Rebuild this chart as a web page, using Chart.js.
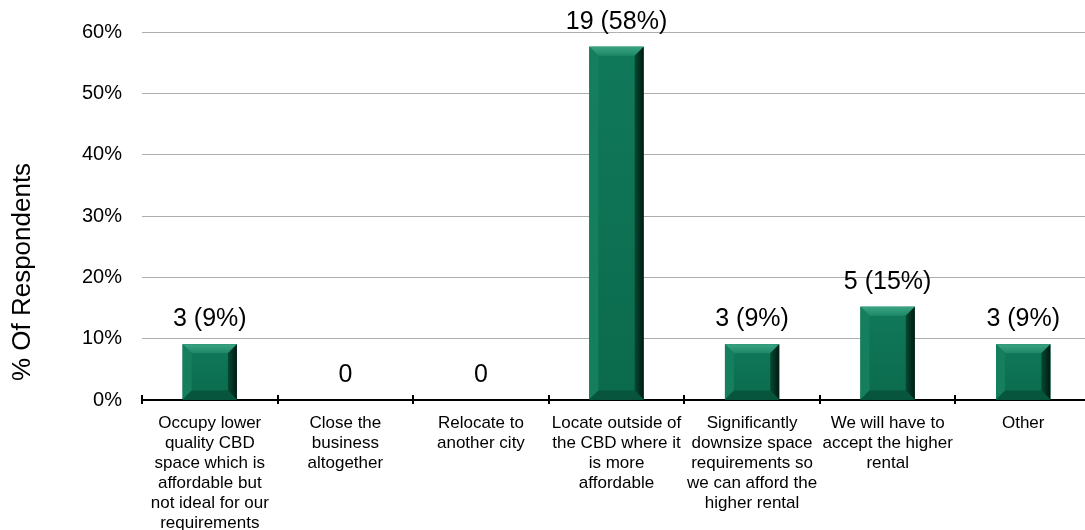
<!DOCTYPE html>
<html>
<head>
<meta charset="utf-8">
<script src="https://cdn.jsdelivr.net/npm/chart.js@4"></script>
<style>
  html, body { margin: 0; padding: 0; background: #fff; overflow: hidden; }
  #wrap { position: absolute; left: 0; top: 0; width: 1091px; height: 530px; }
</style>
</head>
<body>
<div id="wrap"><canvas id="barChart" width="1091" height="530"></canvas></div>
<script>
// categories (wrapped the way they appear under the axis)
const categories = [
  ['Occupy lower', 'quality CBD', 'space which is', 'affordable but', 'not ideal for our', 'requirements'],
  ['Close the', 'business', 'altogether'],
  ['Relocate to', 'another city'],
  ['Locate outside of', 'the CBD where it', 'is more', 'affordable'],
  ['Significantly', 'downsize space', 'requirements so', 'we can afford the', 'higher rental'],
  ['We will have to', 'accept the higher', 'rental'],
  ['Other']
];
// % of respondents
const percents = [9.1, 0, 0, 57.6, 9.1, 15.2, 9.1];
// text shown above each bar
const valueLabels = ['3 (9%)', '0', '0', '19 (58%)', '3 (9%)', '5 (15%)', '3 (9%)'];
const yTicks = [0, 10, 20, 30, 40, 50, 60];
const yTitle = '% Of Respondents';

const FONT = "'Liberation Sans', Arial, sans-serif";

// bevelled look of the bars
const bevelPlugin = {
  id: 'bevel',
  afterDatasetsDraw(chart) {
    const ctx = chart.ctx;
    chart.getDatasetMeta(0).data.forEach(function(bar) {
      const l = bar.x - bar.width / 2, r = bar.x + bar.width / 2;
      const t = bar.y, b = bar.base;
      const h = b - t;
      if (h < 1) return;
      const bv = Math.min(9, h / 2);
      ctx.save();
      // face
      let g = ctx.createLinearGradient(0, t, 0, b);
      g.addColorStop(0, '#10795a');
      g.addColorStop(1, '#0b6a4c');
      ctx.fillStyle = g;
      ctx.fillRect(l, t, r - l, h);
      // top
      g = ctx.createLinearGradient(0, t, 0, t + bv);
      g.addColorStop(0, '#3aa383');
      g.addColorStop(1, '#1d8866');
      ctx.fillStyle = g;
      ctx.beginPath();
      ctx.moveTo(l, t); ctx.lineTo(r, t); ctx.lineTo(r - bv, t + bv); ctx.lineTo(l + bv, t + bv);
      ctx.closePath(); ctx.fill();
      // left
      ctx.fillStyle = '#147e5d';
      ctx.beginPath();
      ctx.moveTo(l, t); ctx.lineTo(l + bv, t + bv); ctx.lineTo(l + bv, b - bv); ctx.lineTo(l, b);
      ctx.closePath(); ctx.fill();
      // bottom
      ctx.fillStyle = '#07553c';
      ctx.beginPath();
      ctx.moveTo(l, b); ctx.lineTo(l + bv, b - bv); ctx.lineTo(r - bv, b - bv); ctx.lineTo(r, b);
      ctx.closePath(); ctx.fill();
      // right
      g = ctx.createLinearGradient(r - bv, 0, r, 0);
      g.addColorStop(0, '#064a34');
      g.addColorStop(1, '#011a10');
      ctx.fillStyle = g;
      ctx.beginPath();
      ctx.moveTo(r, t); ctx.lineTo(r, b); ctx.lineTo(r - bv, b - bv); ctx.lineTo(r - bv, t + bv);
      ctx.closePath(); ctx.fill();
      ctx.restore();
    });
  }
};

// value labels above bars
const valueLabelPlugin = {
  id: 'valueLabels',
  afterDatasetsDraw(chart) {
    const ctx = chart.ctx;
    ctx.save();
    ctx.font = '25px ' + FONT;
    ctx.fillStyle = '#000';
    ctx.textAlign = 'center';
    ctx.textBaseline = 'alphabetic';
    chart.getDatasetMeta(0).data.forEach(function(bar, i) {
      ctx.fillText(valueLabels[i], bar.x, bar.y - 18);
    });
    ctx.restore();
  }
};

// tick marks between categories + rotated y title
const axisExtrasPlugin = {
  id: 'axisExtras',
  afterDraw(chart) {
    const xs = chart.scales.x;
    const ctx = chart.ctx;
    const n = categories.length;
    const y = chart.chartArea.bottom;
    ctx.save();
    ctx.strokeStyle = '#000';
    ctx.lineWidth = 2;
    for (let i = 0; i <= n; i++) {
      const x = Math.round(xs.left + i * xs.width / n);
      ctx.beginPath();
      ctx.moveTo(x, y - 5);
      ctx.lineTo(x, y + 4);
      ctx.stroke();
    }
    ctx.translate(23, 272);
    ctx.rotate(-Math.PI / 2);
    ctx.font = '26px ' + FONT;
    ctx.fillStyle = '#000';
    ctx.textAlign = 'center';
    ctx.textBaseline = 'middle';
    ctx.fillText(yTitle, 0, 0);
    ctx.restore();
  }
};

new Chart(document.getElementById('barChart'), {
  type: 'bar',
  data: {
    labels: categories,
    datasets: [{
      data: percents,
      backgroundColor: '#0d7152',
      borderWidth: 0,
      barPercentage: 0.4,
      categoryPercentage: 1.0
    }]
  },
  options: {
    responsive: false,
    animation: false,
    devicePixelRatio: 1,
    layout: { padding: { top: 32, left: 0, right: 0, bottom: 0 } },
    plugins: {
      legend: { display: false },
      tooltip: { enabled: false }
    },
    scales: {
      x: {
        grid: { display: false },
        border: { color: '#000', width: 2 },
        ticks: {
          color: '#000',
          font: { family: FONT, size: 17, lineHeight: 20 / 17 },
          padding: 5,
          maxRotation: 0,
          autoSkip: false
        },
        afterFit(s) { s.height = 130; }
      },
      y: {
        min: 0,
        max: 60,
        afterBuildTicks(s) { s.ticks = yTicks.map(v => ({ value: v })); },
        ticks: {
          color: '#000',
          font: { family: FONT, size: 20 },
          padding: 20,
          callback: v => v + '%'
        },
        grid: { color: '#a9aeb3', drawTicks: false },
        border: { display: false },
        afterFit(s) { s.width = 142; }
      }
    }
  },
  plugins: [bevelPlugin, valueLabelPlugin, axisExtrasPlugin]
});
</script>
</body>
</html>
